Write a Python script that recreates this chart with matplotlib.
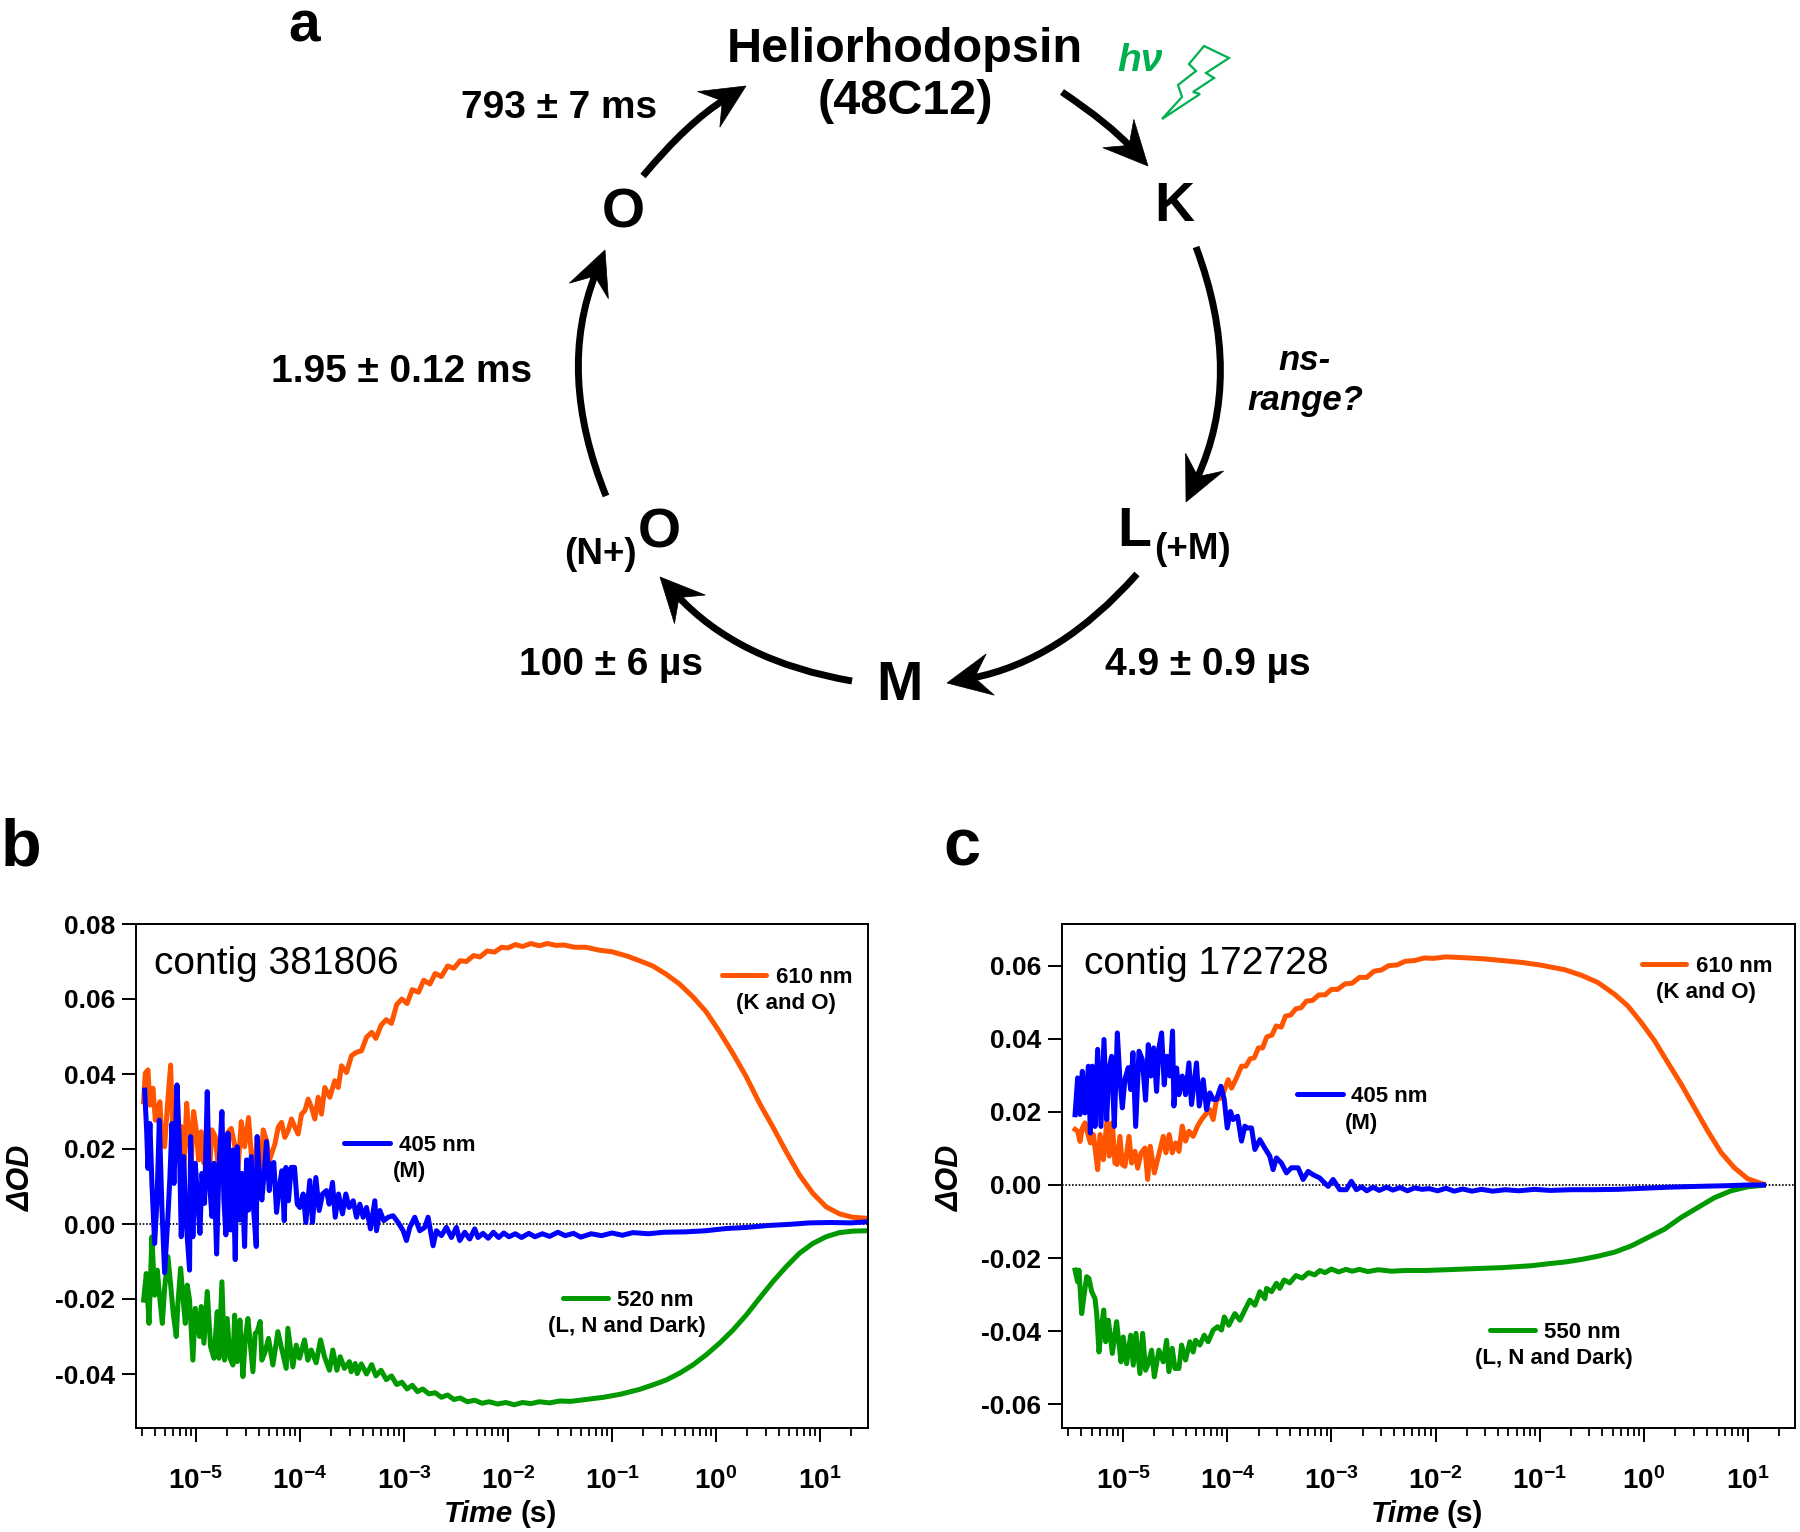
import matplotlib
matplotlib.use('Agg')
import matplotlib.pyplot as plt
from matplotlib.patches import PathPatch, Polygon
from matplotlib.path import Path
from matplotlib.ticker import LogLocator, NullFormatter, FixedLocator
import numpy as np

plt.rcParams['font.family'] = ['Liberation Sans', 'DejaVu Sans']
plt.rcParams['mathtext.fontset'] = 'custom'
plt.rcParams['mathtext.bf'] = 'Liberation Sans:bold'
plt.rcParams['mathtext.rm'] = 'Liberation Sans:bold'
plt.rcParams['mathtext.default'] = 'bf'

# panel b, log10(time) and delta OD
b_blue_t = [-5.493,-5.474,-5.461,-5.442,-5.423,-5.397,-5.374,-5.352,-5.326,-5.301,-5.269,-5.250,-5.230,-5.211,-5.182,-5.160,-5.141,-5.118,-5.093,-5.061,
    -5.051,-5.029,-5.006,-4.981,-4.961,-4.942,-4.917,-4.891,-4.872,-4.846,-4.827,-4.801,-4.779,-4.750,-4.731,-4.712,-4.692,-4.667,-4.648,-4.622,
    -4.603,-4.580,-4.558,-4.532,-4.513,-4.494,-4.468,-4.443,-4.420,-4.411,-4.388,-4.366,-4.347,-4.321,-4.295,-4.273,-4.251,-4.225,-4.199,-4.174,
    -4.151,-4.135,-4.110,-4.084,-4.052,-4.026,-4.001,-3.969,-3.943,-3.905,-3.879,-3.847,-3.815,-3.783,-3.745,-3.719,-3.687,-3.661,-3.629,-3.591,
    -3.559,-3.527,-3.488,-3.456,-3.424,-3.392,-3.360,-3.322,-3.280,-3.264,-3.232,-3.194,-3.152,-3.104,-3.056,-3.008,-2.976,-2.944,-2.896,-2.848,
    -2.800,-2.768,-2.720,-2.688,-2.640,-2.592,-2.544,-2.496,-2.464,-2.416,-2.368,-2.320,-2.288,-2.24,-2.19,-2.14,-2.09,-2.04,-1.99,-1.93,
    -1.87,-1.8,-1.74,-1.67,-1.6,-1.52,-1.45,-1.37,-1.3,-1.2,-1.1,-1.0,-.9,-.8,-.65,-.5,-.3,-.1,.1,.3,.5,.7,.9,1.1,1.3,1.46]
b_blue_od = [.0357,.0251,.0148,.0268,.0108,-.0052,.0064,.0277,.0037,-.013,.002,.0126,.0268,.0108,.0371,.0224,-.0034,.018,.0002,-.0123,
    .0233,-.0034,.0162,.0055,-.0025,.0135,.0055,.0353,.0117,.002,.0162,-.008,.0144,.03,.0064,-.0029,.0242,-.0016,.0197,-.0095,
    .0206,.0011,.0135,-.006,.0171,.0037,.018,.0028,-.006,.0233,.0117,.0064,.0126,.022,.0089,.016,.0164,.0031,.0098,.0142,
    .0009,.0151,.0062,.0151,.0151,.0053,.0044,.008,.0004,.0116,.0004,.0124,.0036,.008,.0089,.0053,.0111,.0018,.008,.0027,
    .008,.0044,.0062,.0018,.0053,.0018,.0044,-.0013,.0062,-.0018,.0036,.0009,.0018,.0022,.0004,-.0018,-.0044,-.0009,.0018,-.0018,
    -.0009,.0018,-.0058,-.0018,-.0031,-.0009,-.0036,-.0009,-.0044,-.0022,-.004,-.0013,-.0036,-.0025,-.0038,-.0022,-.0036,-.0024,-.0034,-.0026,
    -.0036,-.0025,-.0034,-.0026,-.0033,-.0022,-.0031,-.0025,-.0035,-.0026,-.0031,-.0024,-.003,-.0023,-.0026,-.0022,-.0021,-.0018,-.0012,-.0009,-.0004,-.0001,.0003,.0004,.0003,.0006]

b_orange_t = [-5.503,-5.487,-5.461,-5.442,-5.413,-5.390,-5.371,-5.346,-5.326,-5.301,-5.275,-5.243,-5.224,-5.205,-5.179,-5.160,-5.141,-5.118,-5.089,-5.070,
    -5.045,-5.022,-4.997,-4.974,-4.949,-4.923,-4.901,-4.872,-4.846,-4.814,-4.788,-4.763,-4.731,-4.699,-4.660,-4.628,-4.596,-4.564,-4.532,-4.494,
    -4.462,-4.436,-4.411,-4.379,-4.353,-4.321,-4.295,-4.241,-4.209,-4.177,-4.145,-4.113,-4.081,-4.049,-4.017,-3.985,-3.953,-3.921,-3.889,-3.857,
    -3.825,-3.793,-3.761,-3.713,-3.665,-3.632,-3.600,-3.552,-3.504,-3.456,-3.408,-3.360,-3.31,-3.27,-3.22,-3.17,-3.12,-3.07,-3.02,-2.97,
    -2.92,-2.86,-2.81,-2.75,-2.70,-2.64,-2.58,-2.52,-2.46,-2.40,-2.33,-2.27,-2.2,-2.13,-2.06,-2.0,-1.93,-1.86,-1.78,-1.7,
    -1.62,-1.54,-1.46,-1.36,-1.25,-1.12,-1.0,-.85,-.735,-.607,-.479,-.351,-.223,-.095,.033,.162,.29,.418,.546,.674,.802,.93,1.058,1.186,1.314,1.46]
b_orange_od = [.0326,.0402,.0411,.0317,.0362,.0277,.0304,.0326,.0215,.0206,.0313,.0424,.0251,.0268,.0206,.018,.026,.0126,.0322,.0251,
    .0162,.03,.0251,.0171,.0246,.0162,.0206,.0126,.0251,.0233,.0162,.0197,.0126,.0242,.0255,.0211,.0144,.0273,.0206,.0284,
    .0162,.0144,.0233,.0126,.0251,.0222,.0169,.0213,.0258,.0271,.0231,.0249,.028,.0258,.024,.0293,.0302,.0333,.0311,.028,
    .0338,.0293,.0364,.0338,.0382,.0364,.0422,.0404,.0449,.0458,.0462,.0498,.0511,.0495,.0530,.0545,.0535,.0585,.0600,.0588,
    .0625,.0618,.0650,.0640,.0668,.0660,.0688,.0682,.0702,.0700,.0716,.0712,.0728,.0725,.0738,.0736,.0745,.0740,.0748,.0742,
    .0748,.0743,.0744,.0738,.0738,.0730,.0726,.0714,.0702,.0688,.0666,.0640,.0606,.0566,.0513,.0455,.0393,.0322,.0259,.0193,.0131,.0082,.0046,.0027,.0018,.0015]

b_green_t = [-5.503,-5.477,-5.451,-5.423,-5.397,-5.371,-5.349,-5.323,-5.301,-5.269,-5.237,-5.218,-5.189,-5.173,-5.147,-5.125,-5.102,-5.083,-5.061,-5.029,
    -5.006,-4.965,-4.949,-4.923,-4.891,-4.859,-4.827,-4.795,-4.779,-4.750,-4.725,-4.699,-4.673,-4.644,-4.628,-4.603,-4.577,-4.548,-4.526,-4.500,
    -4.452,-4.430,-4.411,-4.382,-4.366,-4.334,-4.302,-4.260,-4.212,-4.180,-4.132,-4.116,-4.068,-4.036,-4.004,-3.956,-3.924,-3.892,-3.844,-3.802,
    -3.764,-3.716,-3.684,-3.645,-3.613,-3.572,-3.524,-3.508,-3.469,-3.450,-3.41,-3.36,-3.31,-3.27,-3.22,-3.17,-3.12,-3.07,-3.02,-2.97,
    -2.92,-2.87,-2.82,-2.76,-2.7,-2.64,-2.58,-2.52,-2.46,-2.39,-2.32,-2.25,-2.18,-2.1,-2.02,-1.94,-1.86,-1.78,-1.7,-1.6,
    -1.5,-1.4,-1.25,-1.08,-.92,-.735,-.607,-.479,-.351,-.223,-.095,.033,.162,.29,.418,.546,.674,.802,.93,1.058,1.186,1.314,1.46]
b_green_od = [-.0203,-.0132,-.0265,-.0034,-.019,-.0123,-.0194,-.0265,-.0172,-.0087,-.018,-.0238,-.03,-.0212,-.0118,-.0194,-.0265,-.0163,-.0203,-.0363,
    -.0225,-.03,-.022,-.0318,-.018,-.0327,-.0358,-.0234,-.0358,-.0154,-.0363,-.0252,-.0358,-.0376,-.0243,-.0367,-.0256,-.0407,-.0309,-.0252,
    -.0394,-.0292,-.0287,-.026,-.0363,-.034,-.0305,-.0376,-.0287,-.0327,-.0385,-.0278,-.0381,-.0323,-.0358,-.0309,-.0363,-.0336,-.037,-.0309,
    -.0354,-.039,-.0336,-.039,-.0354,-.0385,-.0367,-.0394,-.0372,-.0399,-.0373,-.04,-.0375,-.0405,-.039,-.0415,-.0405,-.0428,-.0422,-.044,
    -.043,-.0447,-.044,-.0453,-.045,-.0462,-.0456,-.0468,-.0464,-.0474,-.047,-.0478,-.0474,-.048,-.0476,-.0482,-.0476,-.0479,-.0474,-.0477,
    -.0472,-.0473,-.0468,-.0462,-.0454,-.0441,-.0429,-.0416,-.0398,-.0376,-.0349,-.0318,-.0283,-.0243,-.0198,-.0154,-.0114,-.0078,-.0052,-.0034,-.0023,-.0019,-.0018]

# panel c
c_blue_t = [-5.460,-5.435,-5.412,-5.390,-5.364,-5.332,-5.313,-5.294,-5.268,-5.243,-5.211,-5.182,-5.156,-5.134,-5.109,-5.083,-5.054,-5.029,-5.006,-4.981,
    -4.949,-4.926,-4.904,-4.878,-4.846,-4.815,-4.783,-4.757,-4.732,-4.706,-4.677,-4.655,-4.629,-4.604,-4.578,-4.549,-4.524,-4.511,-4.485,-4.463,
    -4.431,-4.399,-4.367,-4.342,-4.294,-4.268,-4.230,-4.198,-4.166,-4.134,-4.102,-4.060,-4.028,-3.999,-3.968,-3.942,-3.900,-3.862,-3.830,-3.814,
    -3.766,-3.734,-3.686,-3.639,-3.591,-3.559,-3.527,-3.479,-3.431,-3.383,-3.319,-3.271,-3.223,-3.175,-3.111,-3.031,-2.983,-2.919,-2.856,-2.808,
    -2.760,-2.71,-2.66,-2.6,-2.54,-2.47,-2.41,-2.34,-2.27,-2.2,-2.13,-2.06,-1.98,-1.9,-1.82,-1.74,-1.65,-1.56,-1.45,-1.33,
    -1.2,-1.05,-.9,-.7,-.5,-.25,0,.25,.5,.8,1.0,1.147]
c_blue_od = [.0192,.0293,.0193,.0311,.0197,.0325,.0142,.0325,.016,.0371,.016,.0398,.0179,.0316,.0352,.016,.0416,.0289,.0211,.0289,
    .0321,.0261,.0362,.016,.0366,.0344,.0232,.0384,.0298,.0375,.0256,.0375,.0416,.0274,.0352,.0298,.0421,.0216,.032,.0247,
    .0298,.0247,.0334,.022,.0334,.0216,.0288,.0206,.0252,.0234,.0234,.027,.0234,.0156,.0201,.0179,.0188,.012,.0161,.0156,
    .0156,.0097,.0124,.0101,.0079,.0042,.0074,.006,.0033,.0047,.0047,.0015,.0037,.0028,.0019,-.0004,.0015,-.0013,-.0013,.001,
    -.0013,-.0005,-.0016,-.0006,-.0015,-.0006,-.0014,-.0007,-.0016,-.0008,-.0012,-.001,-.0016,-.0009,-.0017,-.0011,-.0017,-.0012,-.0017,-.0013,
    -.0016,-.0012,-.0015,-.0013,-.0013,-.0012,-.0009,-.0006,-.0004,-.0002,0,0]

c_orange_t = [-5.460,-5.435,-5.412,-5.390,-5.364,-5.339,-5.313,-5.284,-5.262,-5.243,-5.220,-5.188,-5.153,-5.131,-5.102,-5.077,-5.057,-5.029,-5.006,-4.981,
    -4.942,-4.917,-4.885,-4.859,-4.827,-4.789,-4.763,-4.738,-4.699,-4.668,-4.613,-4.588,-4.556,-4.527,-4.495,-4.463,-4.431,-4.399,-4.367,-4.326,
    -4.284,-4.246,-4.207,-4.166,-4.134,-4.102,-4.054,-3.990,-3.958,-3.910,-3.862,-3.82,-3.78,-3.74,-3.7,-3.66,-3.62,-3.57,-3.53,-3.48,
    -3.44,-3.39,-3.34,-3.29,-3.24,-3.18,-3.12,-3.06,-3.0,-2.94,-2.87,-2.8,-2.73,-2.66,-2.59,-2.52,-2.45,-2.37,-2.29,-2.2,
    -2.11,-2.02,-1.9,-1.74,-1.55,-1.36,-1.18,-1.0,-.762,-.602,-.442,-.283,-.155,-.027,.101,.229,.357,.484,.612,.74,.868,.996,1.147]
c_orange_od = [.0152,.0147,.0119,.0156,.017,.0142,.0115,.0138,.0088,.0042,.0138,.0069,.0179,.0079,.017,.006,.0056,.0133,.0056,.0051,
    .0133,.006,.0092,.0046,.0087,.0101,.0015,.0106,.0033,.0069,.0133,.0088,.0138,.0088,.0115,.0092,.0161,.012,.0147,.0133,
    .0161,.0179,.0193,.0206,.0179,.0234,.0238,.0288,.0265,.0293,.0325,.0325,.0345,.0348,.0375,.0375,.0405,.041,.0435,.0432,
    .0462,.0465,.0482,.0485,.0503,.0505,.052,.052,.0535,.0535,.055,.0552,.0568,.0568,.0585,.0588,.06,.0602,.0612,.0614,
    .0621,.062,.0624,.0622,.0619,.0614,.0609,.0602,.0589,.0574,.0554,.0522,.049,.0445,.0395,.0335,.0276,.0212,.0148,.0089,.0047,.0017,.0002]

c_green_t = [-5.460,-5.435,-5.422,-5.396,-5.371,-5.348,-5.326,-5.300,-5.268,-5.252,-5.230,-5.204,-5.185,-5.166,-5.140,-5.102,-5.061,-5.019,-4.997,-4.965,
    -4.926,-4.901,-4.875,-4.837,-4.811,-4.783,-4.757,-4.725,-4.699,-4.655,-4.613,-4.581,-4.559,-4.527,-4.501,-4.463,-4.437,-4.399,-4.358,-4.326,
    -4.303,-4.262,-4.220,-4.182,-4.134,-4.092,-4.054,-4.028,-3.984,-3.926,-3.878,-3.830,-3.782,-3.734,-3.686,-3.638,-3.622,-3.574,-3.527,-3.495,
    -3.453,-3.40,-3.34,-3.28,-3.22,-3.16,-3.11,-3.06,-3.0,-2.93,-2.86,-2.8,-2.73,-2.65,-2.55,-2.42,-2.29,-2.1,-1.9,-1.63,
    -1.35,-1.08,-.9,-.762,-.602,-.442,-.283,-.123,.037,.197,.357,.516,.676,.836,.996,1.147]
c_green_od = [-.0233,-.0265,-.0233,-.0352,-.0297,-.0251,-.0256,-.0292,-.0311,-.0352,-.0457,-.0384,-.0342,-.0429,-.037,-.0461,-.0374,-.0484,-.0416,-.0489,
    -.0411,-.0493,-.0406,-.0516,-.0406,-.0507,-.0489,-.0452,-.0525,-.0452,-.0484,-.0425,-.0511,-.0447,-.0502,-.0502,-.0438,-.0479,-.0429,-.0457,
    -.0425,-.0438,-.0411,-.0429,-.0397,-.0388,-.0397,-.0361,-.0384,-.0352,-.037,-.0342,-.0315,-.0329,-.0292,-.0311,-.0283,-.0292,-.0269,-.0283,
    -.026,-.0268,-.0248,-.0255,-.024,-.0246,-.0234,-.024,-.023,-.0238,-.0231,-.0236,-.0231,-.0237,-.0232,-.0236,-.0234,-.0234,-.0232,-.0229,
    -.0226,-.0221,-.0215,-.0211,-.0204,-.0195,-.0184,-.0167,-.0144,-.0121,-.0089,-.0062,-.0035,-.0016,-.0005,-.0001]

y_ticks_b = [-0.04, -0.02, 0.0, 0.02, 0.04, 0.06, 0.08]
y_ticks_c = [-0.06, -0.04, -0.02, 0.0, 0.02, 0.04, 0.06]
decades = [-5, -4, -3, -2, -1, 0, 1]

ORANGE = '#FF5500'
BLUE = '#0000FF'
GREEN = '#009900'
W, H = 1800, 1532

fig = plt.figure(figsize=(18, 15.32), dpi=100)


def panel(box, xlim, ylim, yticks, curves):
    l, t, r, b = box
    ax = fig.add_axes([l / W, 1 - b / H, (r - l) / W, (b - t) / H])
    ax.axhline(0, color='k', ls=(0, (1, 1)), lw=1.2, zorder=1)
    for tt, od, col in curves:
        ax.plot(10.0 ** np.array(tt), od, color=col, lw=3.6, solid_joinstyle='round', zorder=2)
    ax.set_xscale('log')
    ax.set_xlim(10.0 ** xlim[0], 10.0 ** xlim[1])
    ax.set_ylim(*ylim)
    ax.xaxis.set_major_locator(FixedLocator([10.0 ** d for d in decades]))
    ax.xaxis.set_minor_locator(LogLocator(base=10, subs=np.arange(2, 10), numticks=30))
    ax.xaxis.set_minor_formatter(NullFormatter())
    ax.set_xticklabels(['$\\mathbf{10^{%d}}$' % d for d in decades], fontsize=20, fontweight='bold')
    ax.set_yticks(yticks)
    ax.set_yticklabels(['%.2f' % v for v in yticks], fontsize=19, fontweight='bold')
    ax.tick_params(axis='both', which='major', length=10, width=1.4, pad=5)
    ax.tick_params(axis='x', which='major', pad=18)
    ax.tick_params(axis='x', which='minor', length=6, width=1.3)
    for s in ax.spines.values():
        s.set_linewidth(1.4)
    return ax


panel((136, 924, 868, 1428), (-5.576, 1.461), (-0.0544, 0.08), y_ticks_b,
      [(b_orange_t, b_orange_od, ORANGE), (b_green_t, b_green_od, GREEN), (b_blue_t, b_blue_od, BLUE)])
panel((1062, 924, 1795, 1428), (-5.585, 1.45), (-0.0665, 0.0714), y_ticks_c,
      [(c_orange_t, c_orange_od, ORANGE), (c_green_t, c_green_od, GREEN), (c_blue_t, c_blue_od, BLUE)])

# overlay in image pixels for the cycle scheme and all loose labels
ov = fig.add_axes([0, 0, 1, 1], zorder=5)
ov.set_xlim(0, W)
ov.set_ylim(H, 0)
ov.axis('off')
ov.patch.set_alpha(0)


def txt(x, y, s, size=28, **kw):
    kw.setdefault('ha', 'center')
    kw.setdefault('va', 'center')
    kw.setdefault('fontweight', 'bold')
    # va center sits a bit high next to the reference, more so for big type
    dy = size * 0.15 if kw.get('rotation') is None else 0
    ov.text(x, y + dy, s, fontsize=size, **kw)


def arrow(p0, p1, bend):
    p0, p1 = np.array(p0, float), np.array(p1, float)
    d = p1 - p0
    n = np.array([d[1], -d[0]])
    c = (p0 + p1) / 2 + bend * n
    tan = (p1 - c) / np.linalg.norm(p1 - c)
    nor = np.array([-tan[1], tan[0]])
    stop = p1 - tan * 25
    ov.add_patch(PathPatch(Path([p0, c, stop], [Path.MOVETO, Path.CURVE3, Path.CURVE3]),
                           fc='none', ec='k', lw=5, capstyle='butt'))
    ov.add_patch(Polygon([p1, p1 - tan * 44 + nor * 21, p1 - tan * 28, p1 - tan * 44 - nor * 21],
                         closed=True, fc='k', ec='k', lw=0.5))


arrow((1062, 92), (1148, 166), 0.06)
arrow((1196, 247), (1186, 502), 0.21)
arrow((1137, 574), (947, 683), 0.17)
arrow((852, 681), (660, 577), 0.17)
arrow((606, 496), (605, 250), 0.20)
arrow((643, 176), (746, 86), 0.08)

ov.text(304, 42, 'a', fontsize=41, fontweight='bold', ha='center', va='baseline')
txt(21, 841, 'b', 48)
txt(962, 841, 'c', 48)

txt(905, 44, 'Heliorhodopsin', 35)
txt(905, 96, '(48C12)', 35)
txt(1174, 201, 'K', 40)
txt(623, 208, 'O', 40)
txt(1134, 526, 'L', 40)
txt(1192, 546, '(+M)', 26.5)
txt(600, 551, '(N+)', 26.5)
txt(659, 528, 'O', 40)
txt(899, 680, 'M', 40)

txt(559, 104, '793 ± 7 ms', 28)
txt(402, 368, '1.95 ± 0.12 ms', 28)
txt(611, 661, '100 ± 6 µs', 28)
txt(1208, 661, '4.9 ± 0.9 µs', 28)
txt(1305, 357, 'ns-', 25, style='italic')
txt(1305, 397, 'range?', 25, style='italic')

txt(1140, 57, 'hν', 28, style='italic', color='#00B050')
ov.add_patch(Polygon([(1204, 46), (1229, 58), (1206, 73), (1214, 78), (1193, 92), (1200, 94), (1162, 119),
                      (1182, 97), (1178, 85), (1196, 71), (1189, 64)],
                     closed=True, fc='none', ec='#00B050', lw=1.6))

# panel text and hand-placed legends
txt(154, 960, 'contig 381806', 28, ha='left', fontweight='normal')
txt(1084, 960, 'contig 172728', 28, ha='left', fontweight='normal')

legends = [(722, 766, 975, 776, 786, 1001, ORANGE, '610 nm', '(K and O)'),
           (344, 390, 1143, 399, 409, 1169, BLUE, '405 nm', '(M)'),
           (563, 608, 1298, 617, 627, 1324, GREEN, '520 nm', '(L, N and Dark)'),
           (1642, 1686, 964, 1696, 1706, 990, ORANGE, '610 nm', '(K and O)'),
           (1297, 1343, 1094, 1351, 1361, 1121, BLUE, '405 nm', '(M)'),
           (1490, 1535, 1330, 1544, 1554, 1356, GREEN, '550 nm', '(L, N and Dark)')]
for x0, x1, yl, xt, xc, y2, col, s1, s2 in legends:
    ov.plot([x0, x1], [yl, yl], color=col, lw=3.6, solid_capstyle='round')
    txt(xt, yl, s1, 16, ha='left')
    txt(xc, y2, s2, 16)

# axis titles, two pieces because only Time is italic
txt(22, 1178, 'ΔOD', 22, rotation=90, style='italic')
txt(951, 1178, 'ΔOD', 22, rotation=90, style='italic')
for xm in (502, 1429):
    txt(xm + 11, 1511, 'Time', 21.5, ha='right', style='italic')
    txt(xm + 18, 1511, '(s)', 21.5, ha='left')

fig.savefig('out.png', dpi=100)
